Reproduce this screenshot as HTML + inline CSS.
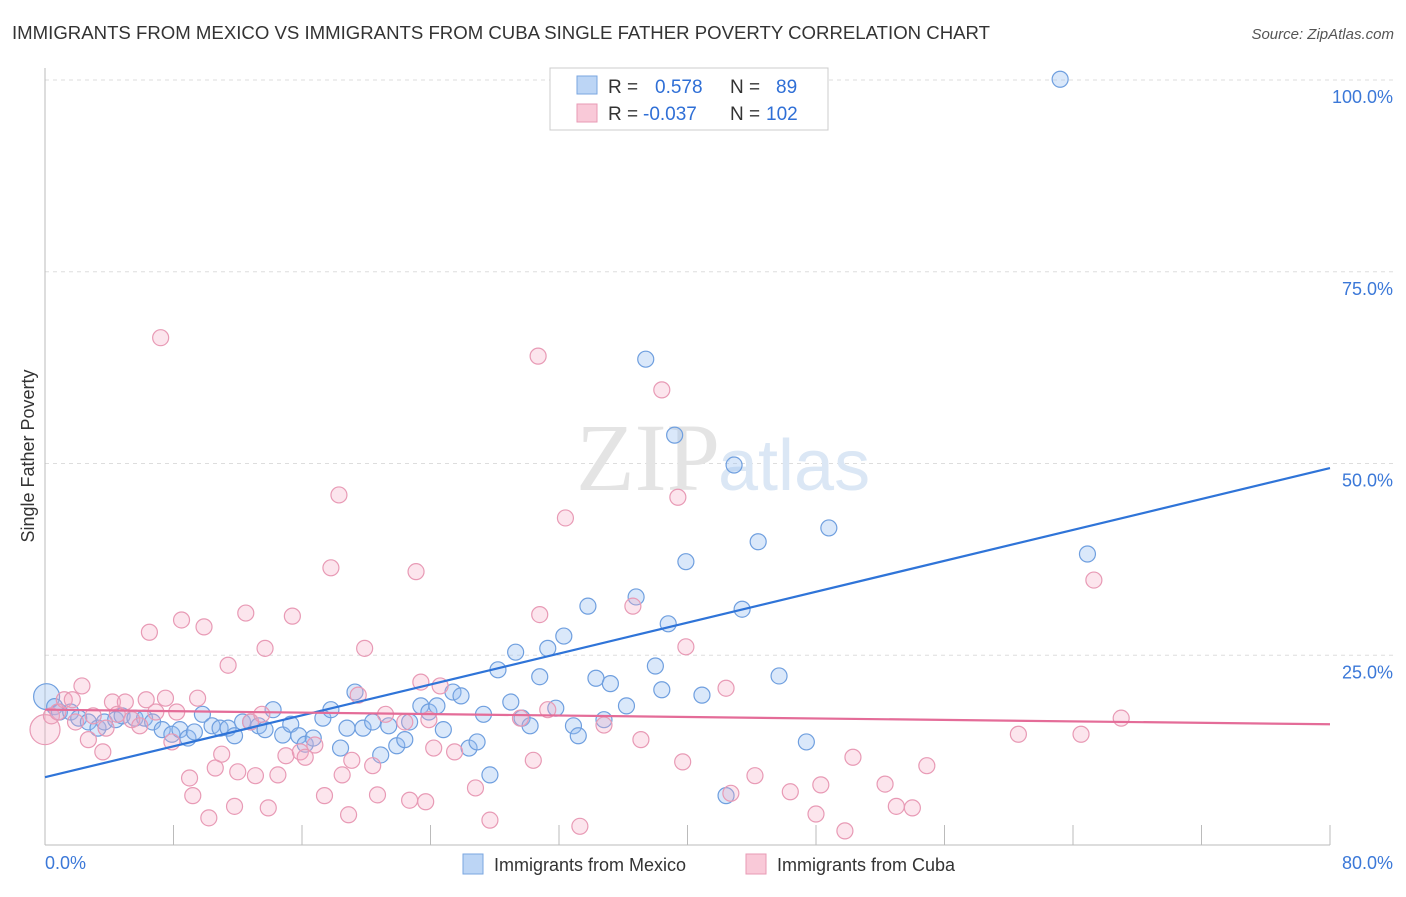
<!DOCTYPE html>
<html><head><meta charset="utf-8">
<style>
html,body{margin:0;padding:0;background:#fff;}
body{width:1406px;height:892px;overflow:hidden;font-family:"Liberation Sans",sans-serif;}
</style></head>
<body>
<svg id="chart" width="1406" height="892" xmlns="http://www.w3.org/2000/svg">
<text x="12" y="39" font-size="18" fill="#333" textLength="978" lengthAdjust="spacingAndGlyphs">IMMIGRANTS FROM MEXICO VS IMMIGRANTS FROM CUBA SINGLE FATHER POVERTY CORRELATION CHART</text>
<text x="1394" y="39" font-size="15" fill="#555" font-style="italic" text-anchor="end">Source: ZipAtlas.com</text>
<g id="grid"></g>
<text x="720" y="490" font-size="96" fill="#e4e4e4" text-anchor="end" font-family="Liberation Serif">ZIP</text>
<text x="718" y="490" font-size="72" fill="#dbe7f5">atlas</text>
<text transform="translate(34,456) rotate(-90)" font-size="18" fill="#333" text-anchor="middle">Single Father Poverty</text>
<g id="pts"></g>
<g id="lines"></g>
<g>
<rect x="550" y="68" width="278" height="62" fill="#fff" stroke="#ccc"/>
<rect x="577" y="76" width="20" height="18" fill="#bcd5f5" stroke="#7aa6e0"/>
<rect x="577" y="104" width="20" height="18" fill="#f9c9d8" stroke="#e89ab5"/>
<text x="608" y="93" font-size="19" fill="#333">R = <tspan x="655" fill="#2f6fd6">0.578</tspan><tspan x="730" fill="#333">N =</tspan><tspan x="776" fill="#2f6fd6">89</tspan></text>
<text x="608" y="120" font-size="19" fill="#333">R = <tspan x="643" fill="#2f6fd6">-0.037</tspan><tspan x="730" fill="#333">N =</tspan><tspan x="766" fill="#2f6fd6">102</tspan></text>
</g>
<g>
<rect x="463" y="854" width="20" height="20" fill="#bcd5f5" stroke="#7aa6e0"/>
<text x="494" y="871" font-size="18" fill="#333">Immigrants from Mexico</text>
<rect x="746" y="854" width="20" height="20" fill="#f9c9d8" stroke="#e89ab5"/>
<text x="777" y="871" font-size="18" fill="#333">Immigrants from Cuba</text>
</g>
</svg>
<script>
const yTicks=[25,50,75,100];
const yTickLabels=["25.0%","50.0%","75.0%","100.0%"];
const xTicks=[0,8,16,24,32,40,48,56,64,72,80];
const xEndLabels=["0.0%","80.0%"];
const mexX=[0.1,0.6,0.9,1.6,2.1,2.7,3.3,3.7,4.4,4.8,5.6,6.2,6.7,7.3,7.9,8.4,8.9,9.3,9.8,10.4,10.9,11.4,11.8,12.3,12.8,13.3,13.7,14.2,14.8,15.3,15.8,16.2,16.7,17.3,17.8,18.4,18.8,19.3,19.8,20.4,20.9,21.4,21.9,22.4,22.7,23.4,23.9,24.4,24.8,25.4,25.9,26.4,26.9,27.3,27.7,28.2,29.0,29.3,29.7,30.2,30.8,31.3,31.8,32.3,32.9,33.2,33.8,34.3,34.8,35.2,36.2,36.8,37.4,38.0,38.4,38.8,39.2,39.9,40.9,42.4,42.9,43.4,44.4,45.7,47.4,48.8,63.2,64.9];
const mexY=[19.6,18.3,17.6,17.6,16.8,16.3,15.5,16.3,16.6,17.1,16.8,16.8,16.3,15.3,14.7,15.3,14.2,15.0,17.3,15.8,15.5,15.5,14.5,16.3,16.3,15.8,15.3,17.9,14.6,16.0,14.5,13.4,14.2,16.8,17.9,12.9,15.5,20.2,15.5,16.3,12.0,15.8,13.2,14.0,16.3,18.4,17.6,18.4,15.3,20.2,19.7,12.9,13.7,17.3,9.4,23.1,18.9,25.4,16.8,15.8,22.2,25.9,18.1,27.5,15.8,14.5,31.4,22.0,16.6,21.3,18.4,32.6,63.6,23.6,20.5,29.1,53.7,37.2,19.8,6.7,49.8,31.0,39.8,22.3,13.7,41.6,100.1,38.2];
const cubX=[0,0.4,0.8,1.2,1.7,1.9,2.3,2.7,3.0,3.6,3.8,4.2,4.5,5.0,5.4,5.9,6.3,6.5,6.9,7.2,7.5,7.9,8.2,8.5,9.0,9.2,9.5,9.9,10.2,10.6,11.0,11.4,11.8,12.0,12.5,12.8,13.1,13.5,13.7,13.9,14.5,15.0,15.4,15.9,16.2,16.8,17.4,17.8,18.3,18.5,18.9,19.1,19.5,19.9,20.4,20.7,21.2,22.4,22.7,23.1,23.4,23.7,23.9,24.2,24.6,25.5,26.8,27.7,29.6,30.4,30.7,30.8,31.3,32.4,33.3,34.8,36.6,37.1,38.4,39.4,39.7,39.9,42.4,42.7,44.2,46.4,48.0,48.3,49.8,50.3,52.3,53.0,54.0,54.9,60.6,64.5,65.3,67.0];
const cubY=[15.3,17.1,17.6,19.2,19.2,16.3,21.0,14.0,17.1,12.4,15.5,18.9,17.3,18.9,16.6,15.8,19.2,28.0,17.6,66.4,19.4,13.7,17.6,29.6,9.0,6.7,19.4,28.7,3.8,10.3,12.1,23.7,5.3,9.8,30.5,16.3,9.3,17.3,25.9,5.1,9.4,11.9,30.1,12.4,11.7,13.3,6.7,36.4,45.9,9.4,4.2,11.3,19.8,25.9,10.6,6.8,17.3,16.3,6.1,35.9,21.5,5.9,16.6,12.9,21.0,12.4,7.7,3.5,16.8,11.3,64.0,30.3,17.9,42.9,2.7,15.9,31.4,14.0,59.6,45.6,11.1,26.1,20.7,7.0,9.3,7.2,4.3,8.1,2.1,11.7,8.2,5.3,5.1,10.6,14.7,14.7,34.8,16.8];
const mexTrend=[9.1,49.4];
const cubTrend=[17.9,16.0];
const X0=45,X1=1330,YB=847,YT=80;
const sx=v=>X0+(X1-X0)*v/80;
const sy=v=>YB-(YB-YT)*v/100;
const NS="http://www.w3.org/2000/svg";
function mk(tag,attrs,parent){const e=document.createElementNS(NS,tag);for(const k in attrs)e.setAttribute(k,attrs[k]);parent.appendChild(e);return e;}
const grid=document.getElementById('grid');
yTicks.forEach((t,i)=>{
 const l=mk('line',{x1:X0,x2:1393,y1:sy(t),y2:sy(t),stroke:'#ddd','stroke-dasharray':'4,4'},grid);
 
 
 const tx=mk('text',{x:1393,y:sy(t)+23,'font-size':18,fill:'#3b78d8','text-anchor':'end'},grid);
 tx.textContent=yTickLabels[i];
 
 
});
const ax=mk('line',{x1:X0,x2:X0,y1:68,y2:845,stroke:'#bbb'},grid);


const bx=mk('line',{x1:X0,x2:X1,y1:845,y2:845,stroke:'#bbb'},grid);


xTicks.forEach(t=>{
 const l=mk('line',{x1:sx(t),x2:sx(t),y1:825,y2:845,stroke:'#bbb'},grid);
 
 
});
[[0,'start',45],[80,'end',1393]].forEach((d,i)=>{
 const tx=mk('text',{x:d[2],y:869,'font-size':18,fill:'#3b78d8','text-anchor':d[1]},grid);
 tx.textContent=xEndLabels[i];
 
 
});
const pts=document.getElementById('pts');
mexX.forEach((x,i)=>{
 const c=mk('circle',{cx:sx(x),cy:sy(mexY[i]),r:i===0?13:8,fill:'rgba(150,190,240,0.35)',stroke:'#6f9fdf','stroke-width':1.2},pts);
 
 
});
cubX.forEach((x,i)=>{
 const c=mk('circle',{cx:sx(x),cy:sy(cubY[i]),r:i===0?15:8,fill:'rgba(245,170,195,0.3)',stroke:'#e89ab5','stroke-width':1.2},pts);
 
 
});
const lines=document.getElementById('lines');
const lm=mk('line',{x1:sx(0),y1:sy(mexTrend[0]),x2:sx(80),y2:sy(mexTrend[1]),stroke:'#2f74d8','stroke-width':2.2},lines);


const lc=mk('line',{x1:sx(0),y1:sy(cubTrend[0]),x2:sx(80),y2:sy(cubTrend[1]),stroke:'#e46c98','stroke-width':2.2},lines);


</script>
</body></html>
